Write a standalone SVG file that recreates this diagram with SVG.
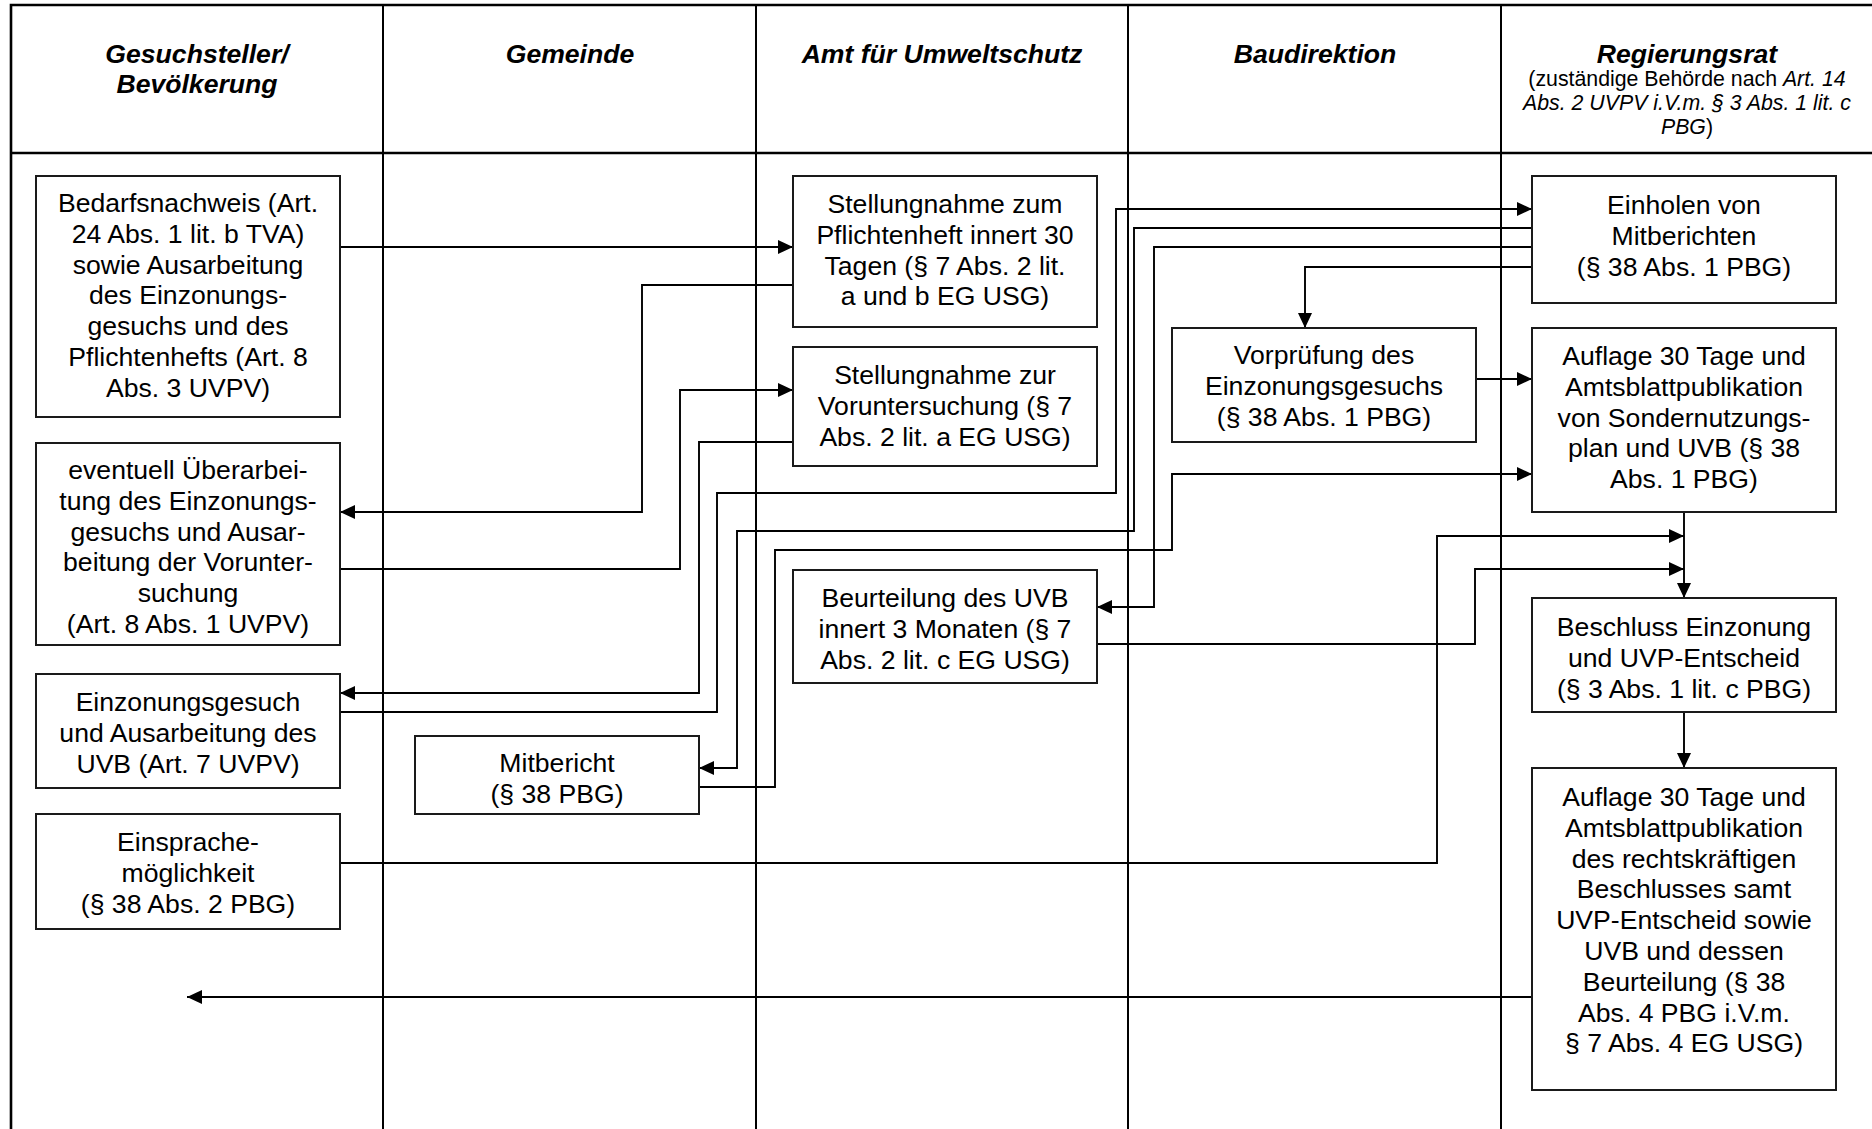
<svg xmlns="http://www.w3.org/2000/svg" width="1872" height="1129" viewBox="0 0 1872 1129">
<style>
text{font-family:"Liberation Sans",Arial,sans-serif;fill:#000}
.hd{font-size:26.6px;font-weight:bold;font-style:italic;text-anchor:middle}
.sub{font-size:21.3px;text-anchor:middle}
.it{font-style:italic}
.bx{font-size:26.6px;text-anchor:middle}
.box{fill:#fff;stroke:#1a1a1a;stroke-width:2}
.grid{stroke:#000;stroke-width:2;fill:none}
.frame{stroke:#000;stroke-width:2.6;fill:none}
.con{fill:none;stroke:#000;stroke-width:1.9}
.arr{marker-end:url(#ah)}
</style>
<defs>
<marker id="ah" markerWidth="15" markerHeight="14" refX="15" refY="7" orient="auto" markerUnits="userSpaceOnUse"><path d="M0,0 L15,7 L0,14 z" fill="#000"/></marker>
</defs>
<rect width="1872" height="1129" fill="#fff"/>
<g id="table">
<path class="frame" d="M11,1129 V5 H1872"/>
<path class="frame" d="M11,153 H1872"/>
<path class="grid" d="M383,5 V1129 M756,5 V1129 M1128,5 V1129 M1501,5 V1129"/>
<text class="hd" x="197" y="63">Gesuchsteller/</text>
<text class="hd" x="197" y="93">Bevölkerung</text>
<text class="hd" x="570" y="63">Gemeinde</text>
<text class="hd" x="942" y="63">Amt für Umweltschutz</text>
<text class="hd" x="1315" y="63">Baudirektion</text>
<text class="hd" x="1687" y="63">Regierungsrat</text>
<text class="sub" x="1687" y="86">(zuständige Behörde nach <tspan class="it">Art. 14</tspan></text>
<text class="sub it" x="1687" y="110">Abs. 2 UVPV i.V.m. § 3 Abs. 1 lit. c</text>
<text class="sub" x="1687" y="134"><tspan class="it">PBG</tspan>)</text>
</g>
<g id="connectors">
<polyline class="con arr" points="340,247 793,247"/>
<polyline class="con arr" points="793,285 642,285 642,512 340,512"/>
<polyline class="con arr" points="340,569 680,569 680,390 793,390"/>
<polyline class="con arr" points="793,442 699,442 699,693 340,693"/>
<polyline class="con arr" points="340,712 717,712 717,493 1116,493 1116,209 1532,209"/>
<polyline class="con arr" points="1532,228 1134,228 1134,531 737,531 737,768 699,768"/>
<polyline class="con arr" points="1532,247 1154,247 1154,607 1097,607"/>
<polyline class="con arr" points="1532,267 1305,267 1305,328"/>
<polyline class="con arr" points="1476,379 1532,379"/>
<polyline class="con arr" points="699,787 775,787 775,550 1172,550 1172,474 1532,474"/>
<polyline class="con arr" points="1684,512 1684,598"/>
<polyline class="con arr" points="340,863 1437,863 1437,536 1684,536"/>
<polyline class="con arr" points="1097,644 1475,644 1475,569 1684,569"/>
<polyline class="con arr" points="1684,712 1684,768"/>
<polyline class="con arr" points="1532,997 187,997"/>
</g>
<g id="n1">
<rect class="box" x="36" y="176" width="304" height="241"/>
<text class="bx" x="188" y="212">Bedarfsnachweis (Art.<tspan x="188" dy="30.8">24 Abs. 1 lit. b TVA)</tspan><tspan x="188" dy="30.8">sowie Ausarbeitung</tspan><tspan x="188" dy="30.8">des Einzonungs-</tspan><tspan x="188" dy="30.8">gesuchs und des</tspan><tspan x="188" dy="30.8">Pflichtenhefts (Art. 8</tspan><tspan x="188" dy="30.8">Abs. 3 UVPV)</tspan></text>
</g>
<g id="n2">
<rect class="box" x="36" y="443" width="304" height="202"/>
<text class="bx" x="188" y="479">eventuell Überarbei-<tspan x="188" dy="30.8">tung des Einzonungs-</tspan><tspan x="188" dy="30.8">gesuchs und Ausar-</tspan><tspan x="188" dy="30.8">beitung der Vorunter-</tspan><tspan x="188" dy="30.8">suchung</tspan><tspan x="188" dy="30.8">(Art. 8 Abs. 1 UVPV)</tspan></text>
</g>
<g id="n3">
<rect class="box" x="36" y="674" width="304" height="114"/>
<text class="bx" x="188" y="711">Einzonungsgesuch<tspan x="188" dy="30.8">und Ausarbeitung des</tspan><tspan x="188" dy="30.8">UVB (Art. 7 UVPV)</tspan></text>
</g>
<g id="n4">
<rect class="box" x="36" y="814" width="304" height="115"/>
<text class="bx" x="188" y="851">Einsprache-<tspan x="188" dy="30.8">möglichkeit</tspan><tspan x="188" dy="30.8">(§ 38 Abs. 2 PBG)</tspan></text>
</g>
<g id="n5">
<rect class="box" x="415" y="736" width="284" height="78"/>
<text class="bx" x="557" y="772">Mitbericht<tspan x="557" dy="30.8">(§ 38 PBG)</tspan></text>
</g>
<g id="n6">
<rect class="box" x="793" y="176" width="304" height="151"/>
<text class="bx" x="945" y="213">Stellungnahme zum<tspan x="945" dy="30.8">Pflichtenheft innert 30</tspan><tspan x="945" dy="30.8">Tagen (§ 7 Abs. 2 lit.</tspan><tspan x="945" dy="30.8">a und b EG USG)</tspan></text>
</g>
<g id="n7">
<rect class="box" x="793" y="347" width="304" height="119"/>
<text class="bx" x="945" y="384">Stellungnahme zur<tspan x="945" dy="30.8">Voruntersuchung (§ 7</tspan><tspan x="945" dy="30.8">Abs. 2 lit. a EG USG)</tspan></text>
</g>
<g id="n8">
<rect class="box" x="793" y="570" width="304" height="113"/>
<text class="bx" x="945" y="607">Beurteilung des UVB<tspan x="945" dy="30.8">innert 3 Monaten (§ 7</tspan><tspan x="945" dy="30.8">Abs. 2 lit. c EG USG)</tspan></text>
</g>
<g id="n9">
<rect class="box" x="1172" y="328" width="304" height="114"/>
<text class="bx" x="1324" y="364">Vorprüfung des<tspan x="1324" dy="30.8">Einzonungsgesuchs</tspan><tspan x="1324" dy="30.8">(§ 38 Abs. 1 PBG)</tspan></text>
</g>
<g id="n10">
<rect class="box" x="1532" y="176" width="304" height="127"/>
<text class="bx" x="1684" y="214">Einholen von<tspan x="1684" dy="30.8">Mitberichten</tspan><tspan x="1684" dy="30.8">(§ 38 Abs. 1 PBG)</tspan></text>
</g>
<g id="n11">
<rect class="box" x="1532" y="328" width="304" height="184"/>
<text class="bx" x="1684" y="365">Auflage 30 Tage und<tspan x="1684" dy="30.8">Amtsblattpublikation</tspan><tspan x="1684" dy="30.8">von Sondernutzungs-</tspan><tspan x="1684" dy="30.8">plan und UVB (§ 38</tspan><tspan x="1684" dy="30.8">Abs. 1 PBG)</tspan></text>
</g>
<g id="n12">
<rect class="box" x="1532" y="598" width="304" height="114"/>
<text class="bx" x="1684" y="636">Beschluss Einzonung<tspan x="1684" dy="30.8">und UVP-Entscheid</tspan><tspan x="1684" dy="30.8">(§ 3 Abs. 1 lit. c PBG)</tspan></text>
</g>
<g id="n13">
<rect class="box" x="1532" y="768" width="304" height="322"/>
<text class="bx" x="1684" y="806">Auflage 30 Tage und<tspan x="1684" dy="30.8">Amtsblattpublikation</tspan><tspan x="1684" dy="30.8">des rechtskräftigen</tspan><tspan x="1684" dy="30.8">Beschlusses samt</tspan><tspan x="1684" dy="30.8">UVP-Entscheid sowie</tspan><tspan x="1684" dy="30.8">UVB und dessen</tspan><tspan x="1684" dy="30.8">Beurteilung (§ 38</tspan><tspan x="1684" dy="30.8">Abs. 4 PBG i.V.m.</tspan><tspan x="1684" dy="30.8">§ 7 Abs. 4 EG USG)</tspan></text>
</g>
</svg>
